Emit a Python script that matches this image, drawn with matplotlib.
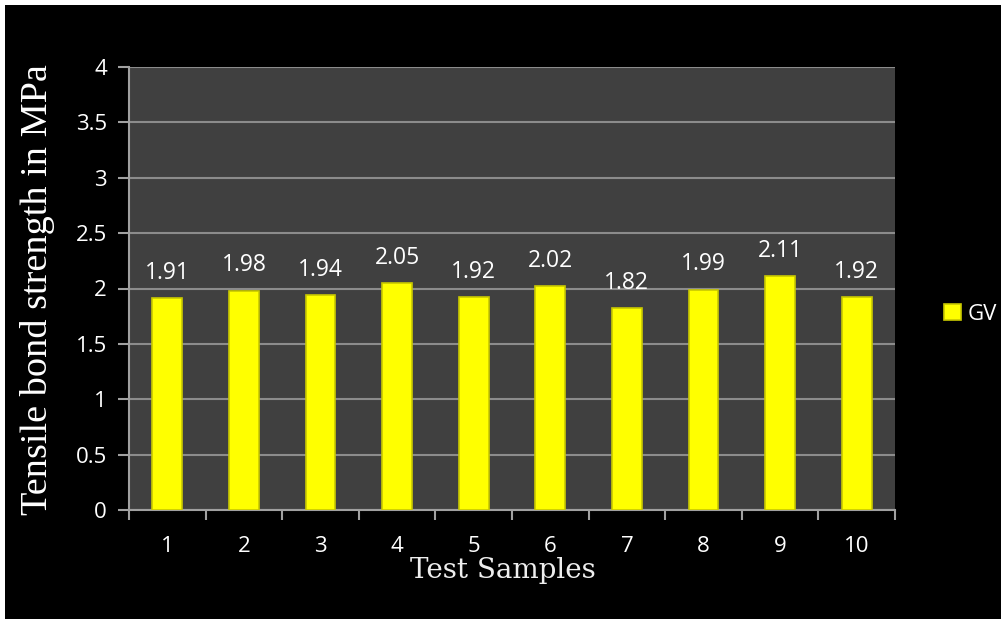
import matplotlib
matplotlib.use("Agg")
import matplotlib.pyplot as plt
from matplotlib.patches import Rectangle

samples = ["1", "2", "3", "4", "5", "6", "7", "8", "9", "10"]
gv = [1.91, 1.98, 1.94, 2.05, 1.92, 2.02, 1.82, 1.99, 2.11, 1.92]
yticks = [0, 0.5, 1, 1.5, 2, 2.5, 3, 3.5, 4]
ytick_labels = ["0", "0.5", "1", "1.5", "2", "2.5", "3", "3.5", "4"]

W, H = 1001, 619
fig = plt.figure(figsize=(W / 100, H / 100), dpi=100)
fig.patch.set_facecolor("white")
fig.add_artist(Rectangle((5 / W, 0), 1, 1 - 5 / H, transform=fig.transFigure,
                         facecolor="black", edgecolor="none", zorder=0))

ax = fig.add_axes([129 / W, 1 - 510 / H, (895 - 129) / W, (510 - 67) / H])
ax.set_facecolor("#404040")
x = list(range(len(samples)))
bars = ax.bar(x, gv, width=0.39, color="#ffff00", edgecolor="#c8c800",
              linewidth=1.2, zorder=3, label="GV")
for xi, v in zip(x, gv):
    ax.text(xi, v + 0.12, f"{v:.2f}", ha="center", va="bottom", color="white",
            fontsize=16.5, family="Open Sans", zorder=4)

ax.set_xlim(-0.5, len(samples) - 0.5)
ax.set_ylim(0, 4)
ax.set_yticks(yticks)
ax.set_yticklabels(ytick_labels, family="Open Sans", fontsize=16, color="white")
ax.set_xticks(x)
ax.set_xticklabels(samples, family="Open Sans", fontsize=16, color="white")
ax.tick_params(axis="x", length=0, pad=19)
ax.set_xticks([i - 0.5 for i in range(len(samples) + 1)], minor=True)
ax.tick_params(axis="x", which="minor", length=7, color="#a0a0a0", width=1.5)
ax.tick_params(axis="y", length=8, color="#a0a0a0", width=1.5, pad=8)
ax.grid(axis="y", color="#8c8c8c", linewidth=1.5, zorder=1)
for s in ["top", "right"]:
    ax.spines[s].set_visible(False)
for s in ["left", "bottom"]:
    ax.spines[s].set_color("#a0a0a0")
    ax.spines[s].set_linewidth(1.5)

fig.text(38 / W, 1 - 290 / H, "Tensile bond strength in MPa", rotation=90,
         ha="center", va="center", color="white", fontsize=27.5,
         family="Liberation Serif")
fig.text(503 / W, 1 - 570 / H, "Test Samples", ha="center", va="center",
         color="#eeeeee", fontsize=20, family="DejaVu Serif")

leg = ax.legend(loc="center left", bbox_to_anchor=(924 / W, 1 - 314 / H),
                bbox_transform=fig.transFigure, frameon=False, handlelength=0.75,
                handleheight=0.75, handletextpad=0.3,
                prop={"family": "Open Sans", "size": 16})
for t in leg.get_texts():
    t.set_color("white")

fig.savefig("out.png", dpi=100, facecolor=fig.get_facecolor())
